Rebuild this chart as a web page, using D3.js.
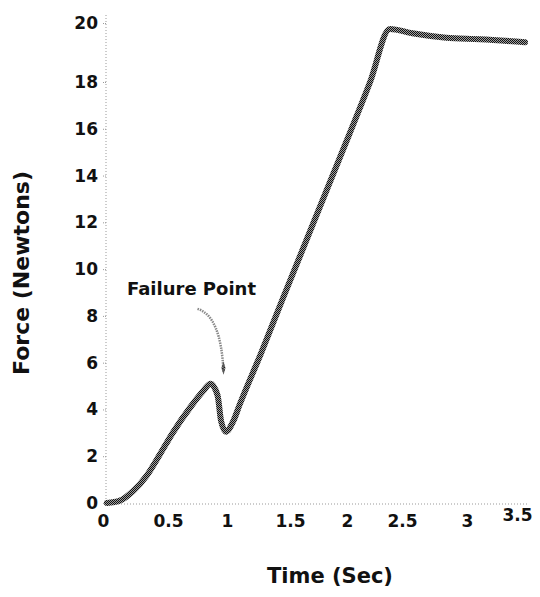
<!DOCTYPE html>
<html>
<head>
<meta charset="utf-8">
<script src="https://cdn.jsdelivr.net/npm/d3@7"></script>
<style>
  body { margin: 0; background: #fff; }
  svg text { font-family: "DejaVu Sans", sans-serif; font-weight: bold; fill: #111; }
</style>
</head>
<body>
<div id="chart"></div>
<script>
// values
const timeTicks = [0, 0.5, 1, 1.5, 2, 2.5, 3, 3.5];
const forceTicks = [0, 2, 4, 6, 8, 10, 12, 14, 16, 18, 20];

const timeSec = [0.03, 0.13, 0.23, 0.34, 0.44, 0.54, 0.69, 0.80, 0.86, 0.92, 0.95, 0.99,
                 1.05, 1.10, 1.27, 1.44, 1.94, 2.21, 2.39, 2.58, 2.84, 3.13, 3.58];
const forceN  = [0, 0.1, 0.5, 1.2, 2.1, 3.0, 4.1, 4.8, 5.1, 4.6, 3.5, 3.05,
                 3.5, 4.2, 6.4, 8.7, 14.8, 18.0, 19.8, 19.65, 19.5, 19.45, 19.35];

// the "Failure Point" pointer: start, bend, end (time, force)
const noteText = "Failure Point";
const notePath = [[0.75, 8.3], [0.95, 8.0], [0.97, 5.6]];

const W = 540, H = 597;

const svg = d3.select("#chart").append("svg")
    .attr("width", W)
    .attr("height", H);

// halftone look of the printed curve
const defs = svg.append("defs");
const pat = defs.append("pattern")
    .attr("id", "halftone")
    .attr("patternUnits", "userSpaceOnUse")
    .attr("width", 2).attr("height", 2);
pat.append("rect").attr("width", 2).attr("height", 2).attr("fill", "#a0a0a0");
pat.append("rect").attr("width", 1).attr("height", 1).attr("fill", "#111");
pat.append("rect").attr("x", 1).attr("y", 1).attr("width", 1).attr("height", 1).attr("fill", "#111");

// the original drawing has uneven tick spacing, so the scales are piecewise
const x = d3.scaleLinear()
    .domain(timeTicks)
    .range([103, 168, 227, 290, 347, 402, 467, 517]);
const y = d3.scaleLinear()
    .domain([0, 18, 20])
    .range([503, 82, 23]);

// dotted axis lines
svg.append("line")
    .attr("x1", 106).attr("x2", 106)
    .attr("y1", 15).attr("y2", y(0) + 1)
    .attr("stroke", "#999").attr("stroke-dasharray", "1,2");
svg.append("line")
    .attr("x1", 106).attr("x2", 527)
    .attr("y1", y(0) + 1).attr("y2", y(0) + 1)
    .attr("stroke", "#999").attr("stroke-dasharray", "1,2");

// y axis
const yAxis = svg.append("g")
    .attr("transform", "translate(106,0)")
    .call(d3.axisLeft(y).tickValues(forceTicks).tickSize(3).tickPadding(5).tickFormat(d => String(d)));
yAxis.select(".domain").remove();
yAxis.selectAll(".tick line").attr("stroke", "#999").attr("stroke-dasharray", "1,1");
yAxis.selectAll("text").attr("font-size", 17).attr("fill", "#111");

// x axis
const xAxis = svg.append("g")
    .attr("transform", "translate(0," + (y(0) + 1) + ")")
    .call(d3.axisBottom(x).tickValues(timeTicks).tickSize(0).tickPadding(11).tickFormat(d => String(d)));
xAxis.select(".domain").remove();
xAxis.selectAll("text").attr("font-size", 17).attr("fill", "#111");
// last label sits a little higher in the original
xAxis.selectAll("text").filter(d => d === 3.5).attr("y", 5);

// axis titles
svg.append("text")
    .attr("transform", "translate(29,273) rotate(-90)")
    .attr("text-anchor", "middle")
    .attr("font-size", 22)
    .text("Force (Newtons)");
svg.append("text")
    .attr("x", 330).attr("y", 583)
    .attr("text-anchor", "middle")
    .attr("font-size", 21)
    .text("Time (Sec)");

// the force curve
const line = d3.line()
    .x((d, i) => x(timeSec[i]))
    .y(d => y(d))
    .curve(d3.curveMonotoneX);

svg.append("path")
    .datum(forceN)
    .attr("d", line)
    .attr("fill", "none")
    .attr("stroke", "url(#halftone)")
    .attr("stroke-width", 6)
    .attr("stroke-linejoin", "round")
    .attr("stroke-linecap", "round");

// annotation
svg.append("text")
    .attr("x", x(0.75) - 6).attr("y", y(8.3) - 14)
    .attr("text-anchor", "middle")
    .attr("font-size", 18)
    .text(noteText);

const p = notePath.map(d => [x(d[0]), y(d[1])]);
svg.append("path")
    .attr("d", "M" + p[0] + "Q" + p[1] + " " + p[2])
    .attr("fill", "none")
    .attr("stroke", "#888")
    .attr("stroke-width", 2.5)
    .attr("stroke-dasharray", "1.5,1");
svg.append("path")
    .attr("d", d3.symbol(d3.symbolDiamond, 30)())
    .attr("transform", "translate(" + p[2][0] + "," + (p[2][1] - 4) + ") scale(0.7,1.3)")
    .attr("fill", "url(#halftone)");
</script>
</body>
</html>
